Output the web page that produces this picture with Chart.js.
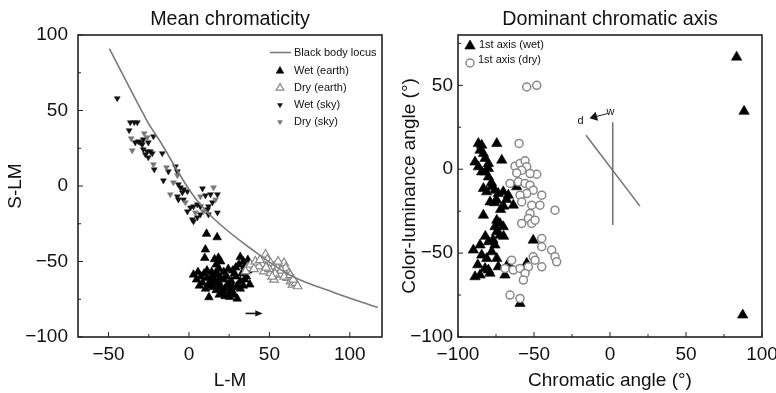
<!DOCTYPE html>
<html>
<head>
<meta charset="utf-8">
<script src="https://cdn.jsdelivr.net/npm/chart.js@4.4.0/dist/chart.umd.min.js"></script>
<style>
  html, body { margin: 0; padding: 0; background: #fff; overflow: hidden; }
  #left { position: absolute; left: 0; top: 0; width: 390px; height: 393px; }
  #right { position: absolute; left: 390px; top: 0; width: 386px; height: 393px; }
</style>
</head>
<body>
<div id="left"><canvas id="c1"></canvas></div>
<div id="right"><canvas id="c2"></canvas></div>
<script>
// ---- left panel: mean chromaticity (L-M vs S-LM)
var locus = [[-49.5, 91], [-26, 43], [-17.8, 29.3], [0.9, -3.6], [15.3, -21.5], [38.3, -41.4], [63.2, -59.3], [90, -70.5], [117.4, -80.5]];

var wetEarth = [[10.9, -31.7], [17.5, -34], [10.2, -42.1], [9.8, -47.6], [18.3, -47.5], [19.7, -50], [16.9, -52], [18.8, -55], [15.9, -48.5],
  [31.9, -47], [33.8, -50], [36.6, -49], [34.7, -53], [31, -52], [2.8, -58.7], [5.6, -57], [7.5, -60], [4.7, -62], [9.4, -58], [11.2, -61],
  [8.4, -64], [12.2, -66], [14.1, -60], [13.1, -63], [15.9, -62], [17.8, -64], [15, -67], [16.9, -69], [19.7, -66], [21.6, -62], [23.5, -60],
  [20.6, -70], [22.5, -68], [24.4, -65], [25.3, -70], [27.2, -67], [26.3, -63], [29.1, -60], [28.2, -72], [30, -66], [31.9, -63], [32.9, -58],
  [34.7, -62], [36.6, -56], [37.8, -65.3], [12.4, -73.7], [30, -74.6], [18.8, -72], [22.5, -73], [25.3, -73.5], [6.5, -66], [10.3, -68],
  [14.1, -57], [17.8, -59], [21.6, -57], [27.2, -56], [24.4, -55], [29.1, -54], [19.7, -61], [23.5, -66], [26.3, -69], [15, -64], [11.2, -56],
  [18.8, -67], [31.9, -68], [21.6, -71], [16.9, -57], [28.2, -58], [33.8, -66], [35.7, -60]];

var dryEarth = [[47.6, -45.4], [48.7, -48.7], [50.7, -51], [45.5, -52], [43.5, -53.2], [52.9, -53.2], [55, -54.3], [59.1, -51], [60.1, -54.3],
  [46.6, -56.5], [50.7, -57.6], [57, -58.7], [62.2, -57.6], [61.2, -60.9], [63.2, -63.1], [64.3, -65.3], [66.3, -64.2], [67.5, -66.4],
  [52.9, -62], [36.2, -54.3], [38.3, -52], [35.2, -56.5], [41.3, -50], [44.1, -49], [49.8, -55], [55.4, -50], [57.3, -56], [59.2, -60],
  [53.5, -58], [47.9, -54], [51.7, -60], [62.9, -59], [64.8, -62], [40.4, -55]];

var wetSky = [[-44.6, 58], [-36.5, 42.1], [-34, 42.1], [-32.1, 42.1], [-37.2, 36.8], [-33.4, 28.8], [-31.5, 29.5], [-30.3, 28.8], [-28.4, 30.8],
  [-29, 27.5], [-25.3, 28.8], [-22.1, 32.8], [-28.4, 24.2], [-25.9, 22.9], [-27.1, 20.9], [-25.3, 18.9], [-24, 22.9], [-22.8, 21.6],
  [-21.6, 10.9], [-16.6, 21.6], [-12.8, 9.6], [-8.4, 12.9], [-7.2, 9.6], [-15.9, 3.6], [-6.6, 1], [-5.3, -1], [-3.4, -2.3], [-4.1, -4.3],
  [-1, -3.6], [-7.2, -7], [-6.6, -9], [-3.4, -9], [-1, -16.9], [0.9, -14.3], [2.8, -13.6], [5.2, -12.3], [7.1, -13.6], [2.1, -22.2],
  [5.2, -20.9], [7.1, -18.9], [11.5, -15.6], [12.1, -13.6], [14.6, -10.9], [17.7, -17.6], [12.1, -18.9], [8.4, -1.7], [17.7, -5.6],
  [2.8, -23.5], [10.2, -6.3], [13.4, -5.6]];

var drySky = [[-35.9, 31.5], [-27.8, 34.8], [-25.9, 32.2], [-35.3, 23.5], [-22.1, 14.3], [-14, 12.3], [-7.2, 7], [-9.7, 2.3], [-11.6, -5.6],
  [-2.2, -10.9], [4, -17.6], [9, -16.9], [16.5, -9], [15.3, -1], [7.1, -7]];

var arrowLM = [[35.2, -84.4], [45.8, -84.4]];

var leftXTicks = [-50, 0, 50, 100];
var leftXMinor = [-25, 25, 75];
var leftYTicks = [-100, -50, 0, 50, 100];
var leftYMinor = [-75, -25, 25, 75];

// ---- right panel: dominant chromatic axis
var axisWet = [[83.3, 66.8], [88.2, 34.5], [87.3, -86.9],
  [-86.6, 15.3], [-84.4, 14.3], [-85.5, 11.3], [-83.3, 9.3], [-88.8, 4.3], [-82.2, 6.4], [-80, 3.4], [-74.5, 15.3], [-71.2, 5.4],
  [-86.6, 1.4], [-84.4, -1.6], [-80, 0.4], [-82.2, -1.6], [-80, -4.6], [-83.3, -11.5], [-81.1, -13.5], [-77.8, -10.5], [-75.7, -12.5],
  [-73.5, -14.5], [-70.2, -13.5], [-66.9, -15.5], [-61.4, -10.5], [-78.9, -19.5], [-74.5, -18.5], [-63.6, -21.4], [-83.3, -27.4],
  [-74.5, -30.4], [-75.7, -34.3], [-72.4, -32.3], [-70.2, -34.3], [-74.5, -37.3], [-72.4, -39.3], [-50.5, -42.3], [-89.9, -48.2],
  [-85.5, -45.2], [-80, -43.3], [-75.7, -45.2], [-84.4, -51.2], [-81.1, -53.2], [-77.8, -49.2], [-74.5, -53.2], [-82.2, -59.1],
  [-73.5, -58.2], [-66.9, -56.1], [-88.8, -64.1], [-85.5, -63.1], [-80, -60.1], [-69.1, -63.1], [-54.8, -56.1], [-59.2, -80],
  [-78, -8], [-76, -20], [-72, -24], [-70, -22], [-68, -18], [-77, -42], [-70, -40], [-82, -40], [-79, -62], [-87, -57]];

var axisDry = [[-54.8, 49], [-48.2, 50], [-59.8, 15.4], [-62.5, 1.8], [-59.2, 3.4], [-55.9, 5], [-54.8, 1.4], [-58.1, -0.6], [-61.4, -2.2],
  [-48.2, -3], [-52.6, -2.6], [-65.8, -8.5], [-60.3, -7.5], [-55.9, -8.5], [-52.6, -9.5], [-50.5, -12.5], [-54.8, -14.5], [-59.2, -15.5],
  [-44.9, -15.5], [-58.1, -19.5], [-51.5, -21.4], [-46.1, -21.4], [-36.2, -24.4], [-52.6, -26.4], [-53.7, -29.3], [-58.1, -32.3],
  [-51.5, -32.3], [-49.3, -30.4], [-44.9, -41.3], [-44.9, -46.2], [-38.4, -48.2], [-36.2, -52.2], [-35.1, -55.2], [-50.5, -52.2],
  [-49.3, -54.2], [-44.9, -58.2], [-64.7, -54.2], [-63.6, -60.1], [-59.2, -59.1], [-53.7, -58.2], [-55.9, -62.1], [-57, -66.1],
  [-65.8, -75], [-59.2, -77], [-69.1, -59.1]];

var vertLine = [[1.8, 28], [1.8, -33.3]];
var diagLine = [[-15.8, 20.2], [19.7, -22]];
var wdArrow = [[-1.5, 33.2], [-13.5, 30.4]];
var dLabel = [-19.3, 28.6];
var wLabel = [0.3, 34.2];

var rightXTicks = [-100, -50, 0, 50, 100];
var rightXMinor = [-75, -25, 25, 75];
var rightYTicks = [-100, -50, 0, 50];
var rightYMinor = [-75, -25, 25, 75];

var FONT = '"Liberation Sans", Arial, Helvetica, sans-serif';
var tickFont = { family: FONT, size: 19 };

function pts(arr) {
  return arr.map(function(p) { return { x: p[0], y: p[1] }; });
}

function minus(v) {
  return String(v).replace('-', '\u2212');
}

function xAxis(min, max, majors, title) {
  return {
    type: 'linear', position: 'bottom', min: min, max: max,
    grid: { display: false, drawTicks: false },
    border: { display: false },
    afterBuildTicks: function(s) { s.ticks = majors.map(function(v) { return { value: v }; }); },
    afterFit: function(s) { s.height = 56; s.paddingLeft = 0; s.paddingRight = 0; },
    ticks: { color: '#111', font: tickFont, padding: 6, maxRotation: 0, autoSkip: false, callback: minus },
    title: { display: true, text: title, color: '#111', font: { family: FONT, size: 19 }, padding: { top: 0, bottom: 1 } }
  };
}

function yAxis(min, max, majors, title, width, tickPad, titlePad) {
  return {
    type: 'linear', position: 'left', min: min, max: max,
    grid: { display: false, drawTicks: false },
    border: { display: false },
    afterBuildTicks: function(s) { s.ticks = majors.map(function(v) { return { value: v }; }); },
    afterFit: function(s) { s.width = width; s.paddingTop = 0; s.paddingBottom = 0; },
    ticks: { color: '#111', font: tickFont, padding: tickPad, autoSkip: false, callback: minus },
    title: { display: true, text: title, color: '#111', font: { family: FONT, size: 19 }, padding: { top: titlePad, bottom: 0 } }
  };
}

function arrow(ctx, x1, y1, x2, y2, head, spread) {
  var a = Math.atan2(y2 - y1, x2 - x1);
  ctx.beginPath();
  ctx.moveTo(x1, y1);
  ctx.lineTo(x2 - Math.cos(a) * head * 0.6, y2 - Math.sin(a) * head * 0.6);
  ctx.stroke();
  ctx.beginPath();
  ctx.moveTo(x2, y2);
  ctx.lineTo(x2 - head * Math.cos(a - spread), y2 - head * Math.sin(a - spread));
  ctx.lineTo(x2 - head * Math.cos(a + spread), y2 - head * Math.sin(a + spread));
  ctx.closePath();
  ctx.fill();
}

function marker(ctx, style, x, y) {
  ctx.save();
  ctx.fillStyle = style.bg;
  ctx.strokeStyle = style.border;
  ctx.lineWidth = style.bw;
  Chart.helpers.drawPoint(ctx, { pointStyle: style.ps, rotation: style.rot || 0, radius: style.r, borderWidth: style.bw }, x, y);
  ctx.restore();
}

// frame, inward ticks and the panel title
function framePlugin(title, xMajor, xMinor, yMajor, yMinor) {
  return {
    id: 'frame',
    afterDraw: function(chart) {
      var ctx = chart.ctx, a = chart.chartArea;
      var xs = chart.scales.x, ys = chart.scales.y;
      ctx.save();
      ctx.strokeStyle = '#222';
      ctx.lineWidth = 1.6;
      ctx.strokeRect(a.left, a.top, a.right - a.left, a.bottom - a.top);
      ctx.lineWidth = 1;
      ctx.beginPath();
      xMajor.concat(xMinor).forEach(function(v, i) {
        var px = xs.getPixelForValue(v);
        var len = i < xMajor.length ? 5 : 3;
        ctx.moveTo(px, a.bottom);
        ctx.lineTo(px, a.bottom - len);
      });
      yMajor.concat(yMinor).forEach(function(v, i) {
        var py = ys.getPixelForValue(v);
        var len = i < yMajor.length ? 5 : 3;
        ctx.moveTo(a.left, py);
        ctx.lineTo(a.left + len, py);
      });
      ctx.stroke();
      ctx.fillStyle = '#111';
      ctx.font = '19.7px ' + FONT;
      ctx.textAlign = 'center';
      ctx.textBaseline = 'alphabetic';
      ctx.fillText(title, (a.left + a.right) / 2, 25);
      ctx.restore();
    }
  };
}

var styles = {
  locus: { color: '#7a7a7a' },
  wetEarth: { ps: 'triangle', r: 5, bg: '#000', border: '#000', bw: 0.6 },
  dryEarth: { ps: 'triangle', r: 5, bg: '#fff', border: '#888', bw: 1.2 },
  wetSky: { ps: 'triangle', rot: 180, r: 3.4, bg: '#111', border: '#111', bw: 0.5 },
  drySky: { ps: 'triangle', rot: 180, r: 3.4, bg: '#777', border: '#777', bw: 0.5 },
  axisWet: { ps: 'triangle', r: 6, bg: '#000', border: '#000', bw: 0.6 },
  axisDry: { ps: 'circle', r: 4, bg: '#fff', border: '#888', bw: 1.5 }
};

function scatterSet(label, data, st, order) {
  return {
    label: label, data: pts(data), order: order,
    pointStyle: st.ps, pointRotation: st.rot || 0, pointRadius: st.r,
    backgroundColor: st.bg, borderColor: st.border, pointBorderWidth: st.bw
  };
}

var leftExtras = {
  id: 'leftExtras',
  afterDraw: function(chart) {
    var ctx = chart.ctx, xs = chart.scales.x, ys = chart.scales.y;
    ctx.save();
    // arrow under the earth cluster
    ctx.strokeStyle = '#111';
    ctx.fillStyle = '#111';
    ctx.lineWidth = 1.6;
    arrow(ctx, xs.getPixelForValue(arrowLM[0][0]), ys.getPixelForValue(arrowLM[0][1]),
      xs.getPixelForValue(arrowLM[1][0]), ys.getPixelForValue(arrowLM[1][1]), 8, 0.4);
    // legend
    ctx.strokeStyle = styles.locus.color;
    ctx.lineWidth = 1.6;
    ctx.beginPath();
    ctx.moveTo(270, 52.5);
    ctx.lineTo(291, 52.5);
    ctx.stroke();
    ctx.font = '11px ' + FONT;
    ctx.textBaseline = 'middle';
    ctx.fillStyle = '#111';
    ctx.fillText('Black body locus', 294, 52.5);
    var rows = [['Wet (earth)', styles.wetEarth, 71], ['Dry (earth)', styles.dryEarth, 88],
      ['Wet (sky)', styles.wetSky, 105], ['Dry (sky)', styles.drySky, 122]];
    rows.forEach(function(r) {
      marker(ctx, { ps: r[1].ps, rot: r[1].rot, r: r[1].r - 0.6, bg: r[1].bg, border: r[1].border, bw: r[1].bw }, 280, r[2]);
      ctx.fillStyle = '#111';
      ctx.fillText(r[0], 294, r[2]);
    });
    ctx.restore();
  }
};

var rightExtras = {
  id: 'rightExtras',
  afterDraw: function(chart) {
    var ctx = chart.ctx, xs = chart.scales.x, ys = chart.scales.y;
    ctx.save();
    ctx.strokeStyle = '#222';
    ctx.fillStyle = '#111';
    ctx.lineWidth = 1;
    arrow(ctx, xs.getPixelForValue(wdArrow[0][0]), ys.getPixelForValue(wdArrow[0][1]),
      xs.getPixelForValue(wdArrow[1][0]), ys.getPixelForValue(wdArrow[1][1]), 9, 0.55);
    ctx.font = '11px ' + FONT;
    ctx.textAlign = 'center';
    ctx.textBaseline = 'middle';
    ctx.fillText('d', xs.getPixelForValue(dLabel[0]), ys.getPixelForValue(dLabel[1]));
    ctx.fillText('w', xs.getPixelForValue(wLabel[0]), ys.getPixelForValue(wLabel[1]));
    // legend
    ctx.textAlign = 'left';
    marker(ctx, styles.axisWet, 80, 46);
    ctx.fillStyle = '#111';
    ctx.fillText('1st axis (wet)', 89, 45);
    marker(ctx, styles.axisDry, 80, 63);
    ctx.fillStyle = '#111';
    ctx.fillText('1st axis (dry)', 88, 60);
    ctx.restore();
  }
};

new Chart(document.getElementById('c1'), {
  type: 'scatter',
  data: {
    datasets: [
      { label: 'Black body locus', data: pts(locus), order: 0, showLine: true, borderColor: styles.locus.color,
        borderWidth: 1.6, pointRadius: 0, tension: 0.35, fill: false },
      scatterSet('Dry (earth)', dryEarth, styles.dryEarth, 1),
      scatterSet('Wet (earth)', wetEarth, styles.wetEarth, 2),
      scatterSet('Dry (sky)', drySky, styles.drySky, 3),
      scatterSet('Wet (sky)', wetSky, styles.wetSky, 4)
    ]
  },
  options: {
    responsive: true, maintainAspectRatio: false, animation: false,
    layout: { padding: { left: 0, right: 8, top: 35, bottom: 0 } },
    plugins: { legend: { display: false }, tooltip: { enabled: false } },
    scales: {
      x: xAxis(-69, 120, leftXTicks, 'L-M'),
      y: yAxis(-100, 100, leftYTicks, 'S-LM', 78, 10, 4)
    }
  },
  plugins: [framePlugin('Mean chromaticity', leftXTicks, leftXMinor, leftYTicks, leftYMinor), leftExtras]
});

new Chart(document.getElementById('c2'), {
  type: 'scatter',
  data: {
    datasets: [
      scatterSet('1st axis (dry)', axisDry, styles.axisDry, 1),
      scatterSet('1st axis (wet)', axisWet, styles.axisWet, 2),
      { label: 'axis w', data: pts(vertLine), order: 3, showLine: true, borderColor: '#777', borderWidth: 1.6, pointRadius: 0 },
      { label: 'axis d', data: pts(diagLine), order: 3, showLine: true, borderColor: '#777', borderWidth: 1.6, pointRadius: 0 }
    ]
  },
  options: {
    responsive: true, maintainAspectRatio: false, animation: false,
    layout: { padding: { left: 0, right: 14, top: 35, bottom: 0 } },
    plugins: { legend: { display: false }, tooltip: { enabled: false } },
    scales: {
      x: xAxis(-100, 100, rightXTicks, 'Chromatic angle (\u00b0)'),
      y: yAxis(-100, 80, rightYTicks, 'Color-luminance angle (\u00b0)', 68, 5, 8)
    }
  },
  plugins: [framePlugin('Dominant chromatic axis', rightXTicks, rightXMinor, rightYTicks, rightYMinor), rightExtras]
});
</script>
</body>
</html>
